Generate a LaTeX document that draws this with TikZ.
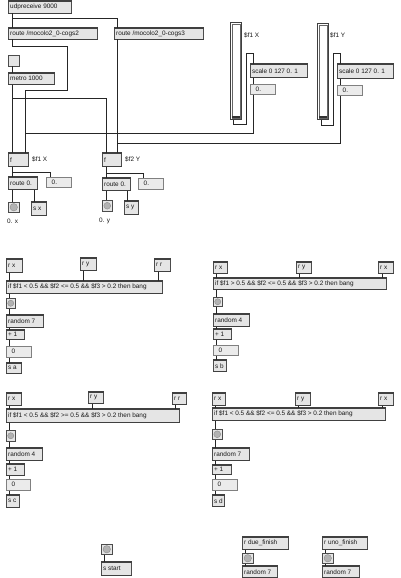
\documentclass[tikz,border=0pt]{standalone}
\usepackage{fontspec}
\setmainfont{Liberation Sans}
\usetikzlibrary{calc}
\tikzset{
  box/.style={draw=black!70,line width=0.5pt,fill=black!10,inner sep=0pt,rectangle},
  numbox/.style={draw=black!50,line width=0.5pt,fill=black!8,inner sep=0pt,rectangle},
  txt/.style={inner sep=0pt,font=\fontsize{6.4}{7}\selectfont,text=black!90},
  tbedge/.style={line width=1.3pt,draw=black!75},
  wire/.style={line width=0.6pt,draw=black!85},
  slider/.style={draw=black!75,line width=0.5pt,fill=white,inner sep=0pt,rectangle},
}
% name x1 y1 x2 y2 text
\newcommand\obox[6]{%
  \node[box,anchor=north west,minimum width=#4pt-#2pt,minimum height=#5pt-#3pt] (#1) at (#2,#3) {};
  \draw[tbedge] (#1.north west) -- (#1.north east);
  \draw[tbedge] (#1.south west) -- (#1.south east);
  \node[txt,anchor=west] (#1t) at ([xshift=2pt]#1.west) {#6};}
\newcommand\nbox[6]{%
  \node[numbox,anchor=north west,minimum width=#4pt-#2pt,minimum height=#5pt-#3pt] (#1) at (#2,#3) {};
  \node[txt,anchor=west] (#1t) at ([xshift=5.5pt]#1.west) {#6};}
\newcommand\bangbox[5]{%
  \node[box,anchor=north west,minimum width=#4pt-#2pt,minimum height=#5pt-#3pt] (#1) at (#2,#3) {};
  \node[circle,draw=black!45,fill=black!30,inner sep=0pt,minimum size=0.68*(#4pt-#2pt)] (#1c) at (#1.center) {};}
\newcommand\slid[5]{%
  \node[slider,anchor=north west,minimum width=#4pt-#2pt,minimum height=#5pt-#3pt] (#1) at (#2,#3) {};
  \node[draw=black!60,line width=0.4pt,inner sep=0pt,minimum width=#4pt-#2pt-3pt,minimum height=#5pt-#3pt-3pt] (#1i) at (#1.center) {};
  \node[fill=black!80,inner sep=0pt,minimum width=#4pt-#2pt-3pt,minimum height=1.6pt,anchor=south] (#1k) at ([yshift=1.5pt]#1.south) {};}
\begin{document}
\begin{tikzpicture}[x=1pt,y=-1pt]
\fill[white] (0,0) rectangle (400,578);
\useasboundingbox (0,0) rectangle (400,578);

% ---------- top section ----------
\obox{udp}{8}{1}{71}{13}{udpreceive 9000}
\obox{cogA}{8}{28}{97}{39}{route /mocolo2\_0-cogs2}
\obox{cogB}{114}{28}{203}{39}{route /mocolo2\_0-cogs3}
\node[box,anchor=north west,minimum width=11pt,minimum height=11pt] (tog) at (8,55) {};
\obox{metro}{8}{73}{54}{84}{metro 1000}

\slid{slA}{230}{22}{241}{119}
\slid{slB}{317}{23}{328}{119}
\node[txt,anchor=west] (lslA) at (244,35) {\$f1 X};
\node[txt,anchor=west] (lslB) at (330,35) {\$f1 Y};
\obox{scA}{250}{64}{307}{77}{scale 0 127 0. 1}
\nbox{nA}{250}{84}{275}{94}{0.}
\obox{scB}{337}{64}{393}{78}{scale 0 127 0. 1}
\nbox{nB}{337}{85}{362}{95}{0.}

\obox{fA}{8}{153}{28}{166}{f}
\obox{fB}{102}{153}{121}{166}{f}
\node[txt,anchor=west] (lfA) at (32,159) {\$f1 X};
\node[txt,anchor=west] (lfB) at (125,159) {\$f2 Y};
\obox{rtA}{8}{177}{37}{189}{route 0.}
\nbox{nC}{46}{177}{71}{187}{0.}
\obox{rtB}{102}{178}{130}{190}{route 0.}
\nbox{nD}{138}{178}{163}{189}{0.}
\bangbox{bA}{8}{202}{19}{212}
\obox{sx}{31}{202}{46}{215}{s x}
\bangbox{bB}{102}{200}{112}{211}
\obox{sy}{124}{201}{138}{214}{s y}
\node[txt,anchor=west] (lbA) at (7,221) {0. x};
\node[txt,anchor=west] (lbB) at (99,221) {0. y};

% wires top
\draw[wire] (12.5,0 |- udp.south) -- (12.5,0 |- cogA.north);
\draw[wire] (12.5,0 |- udp.south) -- (12.5,18) -| (117,0 |- cogB.north);
\draw[wire] (12.5,0 |- cogA.south) -- (12.5,46) -- (67,46) -- (67,90) -| (25,0 |- fA.north);
\draw[wire] (12.5,0 |- tog.south) -- (12.5,0 |- metro.north);
\draw[wire] (12.5,0 |- metro.south) -- (12.5,0 |- fA.north);
\draw[wire] (12.5,0 |- metro.south) -- (12.5,98) -| (106,0 |- fB.north);
\draw[wire] (117,0 |- cogB.south) -- (117,0 |- fB.north);
\draw[wire] (233,0 |- slA.south) -- (233,124) -- (246,124) -- (246,53) -| (253,0 |- scA.north);
\draw[wire] (253,0 |- scA.south) -- (253,0 |- nA.north);
\draw[wire] (253,0 |- nA.south) -- (253,133) -| (25,0 |- fA.north);
\draw[wire] (321,0 |- slB.south) -- (321,125) -- (333,125) -- (333,53) -| (340,0 |- scB.north);
\draw[wire] (340,0 |- scB.south) -- (340,0 |- nB.north);
\draw[wire] (340,0 |- nB.south) -- (340,143) -| (117,0 |- fB.north);
\draw[wire] (12.5,0 |- fA.south) -- (12.5,0 |- rtA.north);
\draw[wire] (12.5,0 |- fA.south) -- (12.5,172) -| (50,0 |- nC.north);
\draw[wire] (12.5,0 |- rtA.south) -- (12.5,0 |- bA.north);
\draw[wire] (34,0 |- rtA.south) -- (34,0 |- sx.north);
\draw[wire] (106,0 |- fB.south) -- (106,0 |- rtB.north);
\draw[wire] (106,0 |- fB.south) -- (106,173) -| (143,0 |- nD.north);
\draw[wire] (106,0 |- rtB.south) -- (106,0 |- bB.north);
\draw[wire] (127,0 |- rtB.south) -- (127,0 |- sy.north);

% ---------- block 1 ----------
\obox{arx}{6}{259}{22}{272}{r x}
\obox{ary}{80}{258}{96}{270}{r y}
\obox{arr}{154}{259}{170}{271}{r r}
\obox{aif}{6}{281}{162}{293}{if \$f1 < 0.5 \&\& \$f2 <= 0.5 \&\& \$f3 > 0.2 then bang}
\bangbox{abt}{6}{298}{15}{308}
\obox{arn}{6}{315}{43}{327}{random 7}
\obox{ap1}{6}{330}{24}{339}{+ 1}
\nbox{anm}{6}{346}{31}{357}{0}
\obox{asn}{6}{363}{21}{373}{s a}
\draw[wire] (9.5,0 |- arx.south) -- (9.5,0 |- aif.north);
\draw[wire] (83,0 |- ary.south) -- (83,0 |- aif.north);
\draw[wire] (158,0 |- arr.south) -- (158,0 |- aif.north);
\draw[wire] (9.5,0 |- aif.south) -- (9.5,0 |- abt.north);
\draw[wire] (9.5,0 |- abt.south) -- (9.5,0 |- arn.north);
\draw[wire] (9.5,0 |- arn.south) -- (9.5,0 |- ap1.north);
\draw[wire] (9.5,0 |- ap1.south) -- (9.5,0 |- anm.north);
\draw[wire] (9.5,0 |- anm.south) -- (9.5,0 |- asn.north);

% ---------- block 2 ----------
\obox{brx}{213}{262}{227}{273}{r x}
\obox{bry}{296}{262}{311}{273}{r y}
\obox{brr}{378}{262}{393}{273}{r x}
\obox{bif}{213}{278}{386}{289}{if \$f1 > 0.5 \&\& \$f2 <= 0.5 \&\& \$f3 > 0.2 then bang}
\bangbox{bbt}{213}{297}{222}{306}
\obox{brn}{213}{314}{249}{326}{random 4}
\obox{bp1}{213}{329}{231}{339}{+ 1}
\nbox{bnm}{213}{345}{238}{355}{0}
\obox{bsn}{213}{360}{226}{371}{s b}
\draw[wire] (216.5,0 |- brx.south) -- (216.5,0 |- bif.north);
\draw[wire] (299,0 |- bry.south) -- (299,0 |- bif.north);
\draw[wire] (382,0 |- brr.south) -- (382,0 |- bif.north);
\draw[wire] (216.5,0 |- bif.south) -- (216.5,0 |- bbt.north);
\draw[wire] (216.5,0 |- bbt.south) -- (216.5,0 |- brn.north);
\draw[wire] (216.5,0 |- brn.south) -- (216.5,0 |- bp1.north);
\draw[wire] (216.5,0 |- bp1.south) -- (216.5,0 |- bnm.north);
\draw[wire] (216.5,0 |- bnm.south) -- (216.5,0 |- bsn.north);

% ---------- block 3 ----------
\obox{crx}{6}{393}{21}{405}{r x}
\obox{cry}{88}{392}{103}{403}{r y}
\obox{crr}{172}{393}{186}{404}{r r}
\obox{cif}{6}{409}{179}{422}{if \$f1 < 0.5 \&\& \$f2 >= 0.5 \&\& \$f3 > 0.2 then bang}
\bangbox{cbt}{6}{430}{15}{441}
\obox{crn}{6}{448}{42}{460}{random 4}
\obox{cp1}{6}{464}{24}{475}{+ 1}
\nbox{cnm}{6}{479}{30}{490}{0}
\obox{csn}{6}{495}{19}{507}{s c}
\draw[wire] (9.5,0 |- crx.south) -- (9.5,0 |- cif.north);
\draw[wire] (92,0 |- cry.south) -- (92,0 |- cif.north);
\draw[wire] (175,0 |- crr.south) -- (175,0 |- cif.north);
\draw[wire] (9.5,0 |- cif.south) -- (9.5,0 |- cbt.north);
\draw[wire] (9.5,0 |- cbt.south) -- (9.5,0 |- crn.north);
\draw[wire] (9.5,0 |- crn.south) -- (9.5,0 |- cp1.north);
\draw[wire] (9.5,0 |- cp1.south) -- (9.5,0 |- cnm.north);
\draw[wire] (9.5,0 |- cnm.south) -- (9.5,0 |- csn.north);

% ---------- block 4 ----------
\obox{drx}{212}{393}{225}{405}{r x}
\obox{dry}{295}{393}{310}{405}{r y}
\obox{drr}{378}{393}{393}{405}{r x}
\obox{dif}{212}{408}{385}{420}{if \$f1 < 0.5 \&\& \$f2 <= 0.5 \&\& \$f3 > 0.2 then bang}
\bangbox{dbt}{212}{429}{222}{439}
\obox{drn}{212}{448}{249}{460}{random 7}
\obox{dp1}{212}{465}{231}{474}{+ 1}
\nbox{dnm}{212}{479}{237}{490}{0}
\obox{dsn}{212}{495}{224}{506}{s d}
\draw[wire] (215.5,0 |- drx.south) -- (215.5,0 |- dif.north);
\draw[wire] (298,0 |- dry.south) -- (298,0 |- dif.north);
\draw[wire] (382,0 |- drr.south) -- (382,0 |- dif.north);
\draw[wire] (215.5,0 |- dif.south) -- (215.5,0 |- dbt.north);
\draw[wire] (215.5,0 |- dbt.south) -- (215.5,0 |- drn.north);
\draw[wire] (215.5,0 |- drn.south) -- (215.5,0 |- dp1.north);
\draw[wire] (215.5,0 |- dp1.south) -- (215.5,0 |- dnm.north);
\draw[wire] (215.5,0 |- dnm.south) -- (215.5,0 |- dsn.north);

% ---------- bottom ----------
\bangbox{ebt}{101}{544}{112}{554}
\obox{est}{101}{562}{131}{575}{s start}
\draw[wire] (104.5,0 |- ebt.south) -- (104.5,0 |- est.north);
\obox{frd}{242}{537}{288}{549}{r due\_finish}
\bangbox{fbt}{242}{553}{253}{563}
\obox{frn}{242}{566}{277}{577}{random 7}
\draw[wire] (245.5,0 |- frd.south) -- (245.5,0 |- fbt.north);
\draw[wire] (245.5,0 |- fbt.south) -- (245.5,0 |- frn.north);
\obox{gru}{322}{537}{367}{549}{r uno\_finish}
\bangbox{gbt}{322}{553}{333}{563}
\obox{grn}{322}{566}{359}{577}{random 7}
\draw[wire] (325.5,0 |- gru.south) -- (325.5,0 |- gbt.north);
\draw[wire] (325.5,0 |- gbt.south) -- (325.5,0 |- grn.north);
\end{tikzpicture}
\end{document}
